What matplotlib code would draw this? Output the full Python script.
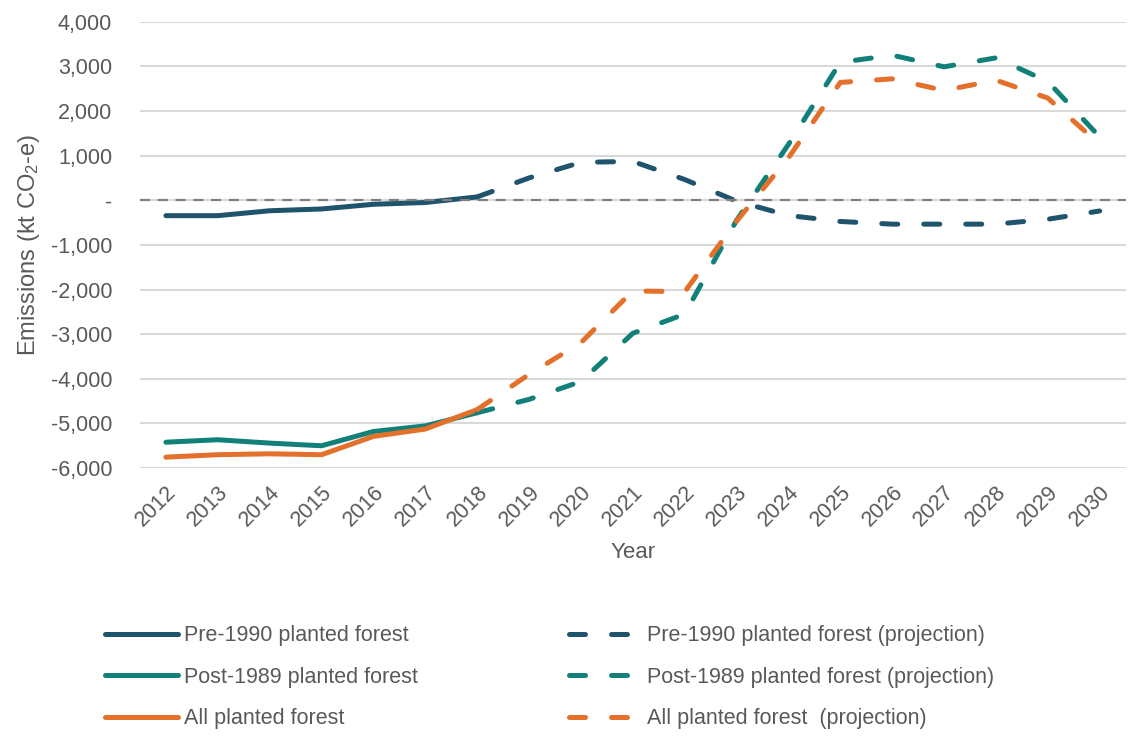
import numpy as np
import matplotlib
matplotlib.use('Agg')
import matplotlib.pyplot as plt
from matplotlib.ticker import FuncFormatter

plt.rcParams['font.family'] = ['Liberation Sans', 'DejaVu Sans']
plt.rcParams['mathtext.default'] = 'regular'

# data (kt CO2-e)
hist_years = [2012, 2013, 2014, 2015, 2016, 2017, 2018]
proj_years = [2018, 2019, 2020, 2021, 2022, 2023, 2024, 2025, 2026, 2027, 2028, 2029, 2030]

pre1990_hist = [-345, -345, -235, -195, -90, -50, 75]
post1989_hist = [-5420, -5365, -5440, -5500, -5180, -5055, -4760]
all_hist = [-5755, -5700, -5680, -5700, -5290, -5125, -4690]

pre1990_proj = [75, 500, 850, 870, 465, -20, -340, -475, -535, -535, -535, -425, -240]
post1989_proj = [-4760, -4460, -4060, -2980, -2550, -450, 1250, 3090, 3250, 2990, 3190, 2660, 1420]
all_proj = [-4690, -3900, -3190, -2030, -2050, -470, 950, 2640, 2720, 2460, 2690, 2290, 1250]

year_labels = [str(y) for y in range(2012, 2031)]

c_pre = '#1F546C'
c_post = '#118078'
c_all = '#E3702B'
txt = '#595959'

fig = plt.figure(figsize=(11.29, 7.36), dpi=100)
ax = fig.add_axes([0.124, 0.364, 0.873, 0.6065])

lw = 3.6
dash = (3.2, 5.2)

# historical series
ax.plot(hist_years, pre1990_hist, color=c_pre, lw=lw, solid_capstyle='round', solid_joinstyle='round',
        label='Pre-1990 planted forest', zorder=2)
ax.plot(hist_years, post1989_hist, color=c_post, lw=lw, solid_capstyle='round', solid_joinstyle='round',
        label='Post-1989 planted forest', zorder=2)
ax.plot(hist_years, all_hist, color=c_all, lw=lw, solid_capstyle='round', solid_joinstyle='round',
        label='All planted forest', zorder=2)

# projections
ax.plot(proj_years, pre1990_proj, color=c_pre, lw=lw, dashes=dash, dash_capstyle='round',
        label='Pre-1990 planted forest (projection)', zorder=2)
ax.plot(proj_years, post1989_proj, color=c_post, lw=lw, dashes=dash, dash_capstyle='round',
        label='Post-1989 planted forest (projection)', zorder=2)
ax.plot(proj_years, all_proj, color=c_all, lw=lw, dashes=dash, dash_capstyle='round',
        label='All planted forest  (projection)', zorder=2)

# zero reference line
ax.axhline(0, color='#7F7F7F', lw=1.6, dashes=(4.5, 3.5), zorder=3)

ax.set_xlim(2011.5, 2030.5)
ax.set_ylim(-6000, 4000)
ax.set_yticks(np.arange(-6000, 4001, 1000))
ax.yaxis.set_major_formatter(FuncFormatter(lambda v, p: '-' if v == 0 else f'{int(v):,}'))
ax.set_xticks(range(2012, 2031))
ax.set_xticklabels(year_labels, rotation=45, ha='right', rotation_mode='anchor')

ax.grid(axis='y', color='#D9D9D9', lw=1.5, zorder=0)
ax.set_axisbelow(True)
for s in ax.spines.values():
    s.set_visible(False)
ax.tick_params(axis='both', length=0, colors=txt, labelsize=15.5)
ax.tick_params(axis='y', pad=20)
ax.tick_params(axis='x', pad=10)

ax.set_ylabel('Emissions (kt CO$_2$-e)', fontsize=17, color=txt, labelpad=6)
ax.set_xlabel('Year', fontsize=16, color=txt, labelpad=8)

leg = ax.legend(loc='center', bbox_to_anchor=(0.487, 0.080), bbox_transform=fig.transFigure,
                ncol=2, frameon=False, fontsize=15.5, handlelength=3.35, handletextpad=0.3,
                columnspacing=7.0, labelspacing=0.95)
for t in leg.get_texts():
    t.set_color(txt)

fig.savefig('out.png', dpi=100)
